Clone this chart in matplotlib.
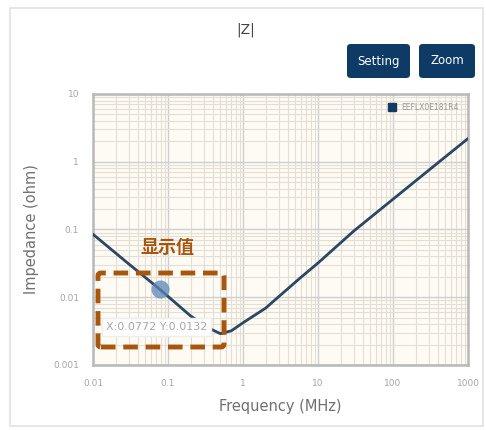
import matplotlib
matplotlib.use('Agg')
import matplotlib.pyplot as plt
from matplotlib.patches import FancyBboxPatch, Rectangle
from matplotlib.lines import Line2D

plt.rcParams['font.family'] = ['DejaVu Sans', 'Noto Sans CJK SC']

# --- DATA ---
freq_mhz = [0.01, 0.03, 0.0772, 0.2, 0.35, 0.5, 0.7, 1.0, 2.0, 5.7, 10, 30, 100, 300, 1000]
impedance = [0.085, 0.031, 0.0132, 0.0053, 0.0035, 0.0029, 0.0032, 0.0042, 0.0069,
             0.019, 0.032, 0.095, 0.28, 0.75, 2.2]
marker_x = 0.0772
marker_y = 0.0132
series_name = 'EEFLX0E181R4'
x_ticks = [0.01, 0.1, 1, 10, 100, 1000]
x_ticklabels = ['0.01', '0.1', '1', '10', '100', '1000']
y_ticks = [0.001, 0.01, 0.1, 1, 10]
y_ticklabels = ['0.001', '0.01', '0.1', '1', '10']

W, H = 486, 430
fig = plt.figure(figsize=(W / 100, H / 100), dpi=100)
fig.patch.set_facecolor('white')

def fx(px): return px / W
def fy(py): return 1 - py / H

# outer card frame
fig.patches.append(Rectangle((fx(10), fy(426)), fx(473), 418 / H, transform=fig.transFigure,
                             facecolor='none', edgecolor='#e2e2e2', lw=1.2, zorder=-5))

ax = fig.add_axes([fx(93), fy(365), fx(375), 271 / H])
ax.set_facecolor('#fdfbf4')
ax.set_xscale('log')
ax.set_yscale('log')
ax.set_xlim(0.01, 1000)
ax.set_ylim(0.001, 10)

ax.grid(True, which='major', color='#cfcfcf', lw=1.0)
ax.grid(True, which='minor', color='#e4dfd4', lw=0.8)
for s in ax.spines.values():
    s.set_color('#b8b8b8')
    s.set_linewidth(1.8)

ax.set_xticks(x_ticks)
ax.set_xticklabels(x_ticklabels)
ax.set_yticks(y_ticks)
ax.set_yticklabels(y_ticklabels)
ax.tick_params(which='both', length=0, labelsize=6.5, labelcolor='#a5a5a5', pad=10)

ax.plot(freq_mhz, impedance, color='#2b4764', lw=2.0, solid_capstyle='round', zorder=3)
ax.plot([marker_x], [marker_y], 'o', color='#5b86b8', ms=13, alpha=0.75, mec='none', zorder=4)

# tooltip
ax.text(0.0148, 0.00365, 'X:0.0772 Y:0.0132', fontsize=8, color='#a8a8a8', va='center', ha='left',
        bbox=dict(boxstyle='square,pad=0.35', facecolor='white', edgecolor='#eeeeee', alpha=0.97),
        zorder=5)

# legend
ax.legend(handles=[Line2D([], [], marker='s', ls='none', color='#153a63', ms=6)],
          labels=[series_name], loc='upper right', frameon=False, fontsize=5.5,
          labelcolor='#999999', handletextpad=0.2, borderaxespad=0.8)

ax.set_xlabel('Frequency (MHz)', fontsize=10.5, color='#707070', labelpad=8)
ax.set_ylabel('Impedance (ohm)', fontsize=10.5, color='#707070', labelpad=10)

fig.text(fx(246), fy(30), '|Z|', fontsize=10, color='#444444', ha='center', va='center')

# buttons
for x0, x1, label in [(347, 410, 'Setting'), (419, 475, 'Zoom')]:
    fig.patches.append(FancyBboxPatch((fx(x0), fy(78)), fx(x1 - x0), 34 / H,
                                      boxstyle='round,pad=0,rounding_size=0.008',
                                      transform=fig.transFigure, facecolor='#0d3b66',
                                      edgecolor='none'))
    fig.text(fx((x0 + x1) / 2), fy(61), label, fontsize=8.5, color='white',
             ha='center', va='center')

# annotation
fig.patches.append(FancyBboxPatch((fx(98), fy(347)), fx(126), 74 / H,
                                  boxstyle='round,pad=0,rounding_size=0.006',
                                  transform=fig.transFigure, facecolor='none',
                                  edgecolor='#a8560e', lw=3.5, ls=(0, (3, 1.6)), zorder=10))
fig.text(fx(167), fy(247), '显示值', fontsize=13, fontweight='bold', color='#a8560e',
         ha='center', va='center', family=['Noto Sans CJK SC', 'DejaVu Sans'])

fig.savefig('out.png', dpi=100)
